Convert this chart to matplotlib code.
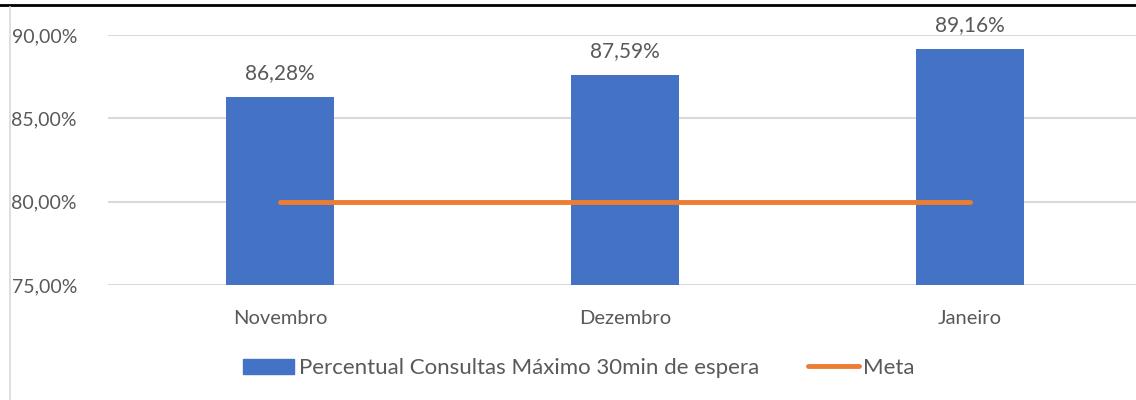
import matplotlib
matplotlib.use("Agg")
import matplotlib.pyplot as plt
from matplotlib.lines import Line2D
from matplotlib.patches import Patch

# Data
months = ["Novembro", "Dezembro", "Janeiro"]
percentual = [86.28, 87.59, 89.16]
meta = [80.0, 80.0, 80.0]
yticks = [75, 80, 85, 90]

plt.rcParams['font.family'] = ['Lato', 'DejaVu Sans']
text_color = '#595959'
bar_color = '#4472C4'
line_color = '#ED7D31'
fs = 14.5


def fmt(v):
    return f"{v:.2f}".replace('.', ',') + '%'


def main():
    fig = plt.figure(figsize=(11.36, 4.0), dpi=100)
    W, H = 1136, 400
    # axes: x from 107.5 to 1142.5 px, y from 35 to 285 px
    ax = fig.add_axes([107.5 / W, 1 - 285 / H, 1035 / W, 250 / H])

    x = list(range(len(months)))
    ax.bar(x, percentual, width=0.313, color=bar_color, zorder=3,
           label='Percentual Consultas Máximo 30min de espera')
    ax.plot(x, meta, color=line_color, linewidth=3.5, solid_capstyle='round',
            zorder=4, label='Meta')

    for xi, v in zip(x, percentual):
        ax.text(xi, v + 0.85, fmt(v), ha='center', va='bottom',
                fontsize=15, color=text_color)

    ax.set_xlim(-0.5, 2.5)
    ax.set_ylim(75, 90)
    ax.set_yticks(yticks)
    ax.set_yticklabels([fmt(t) for t in yticks])
    ax.set_xticks(x)
    ax.set_xticklabels(months)
    ax.tick_params(axis='both', length=0, labelsize=fs, labelcolor=text_color)
    ax.tick_params(axis='y', pad=22, labelsize=14)
    ax.tick_params(axis='x', pad=18)
    ax.grid(axis='y', color='#D9D9D9', linewidth=1.5, zorder=0)
    for s in ax.spines.values():
        s.set_visible(False)

    handles = [Patch(color=bar_color), Line2D([], [], color=line_color, linewidth=3.5,
                                               solid_capstyle='round')]
    labels = ['Percentual Consultas Máximo 30min de espera', 'Meta']
    fig.legend(handles, labels, loc='center', bbox_to_anchor=(579 / W, 1 - 368 / H),
               ncol=2, frameon=False, fontsize=16, labelcolor=text_color,
               handlelength=2.3, handleheight=0.65, handletextpad=0.2,
               columnspacing=2.2)

    # frame pieces of the original screenshot
    fig.add_artist(Line2D([0, 1], [1 - 4.5 / H, 1 - 4.5 / H], color='black', linewidth=2))
    fig.add_artist(Line2D([9.5 / W, 9.5 / W], [0, 1 - 7 / H], color='#D9D9D9', linewidth=1.2))

    fig.savefig('out.png', dpi=100)


if __name__ == "__main__":
    main()
